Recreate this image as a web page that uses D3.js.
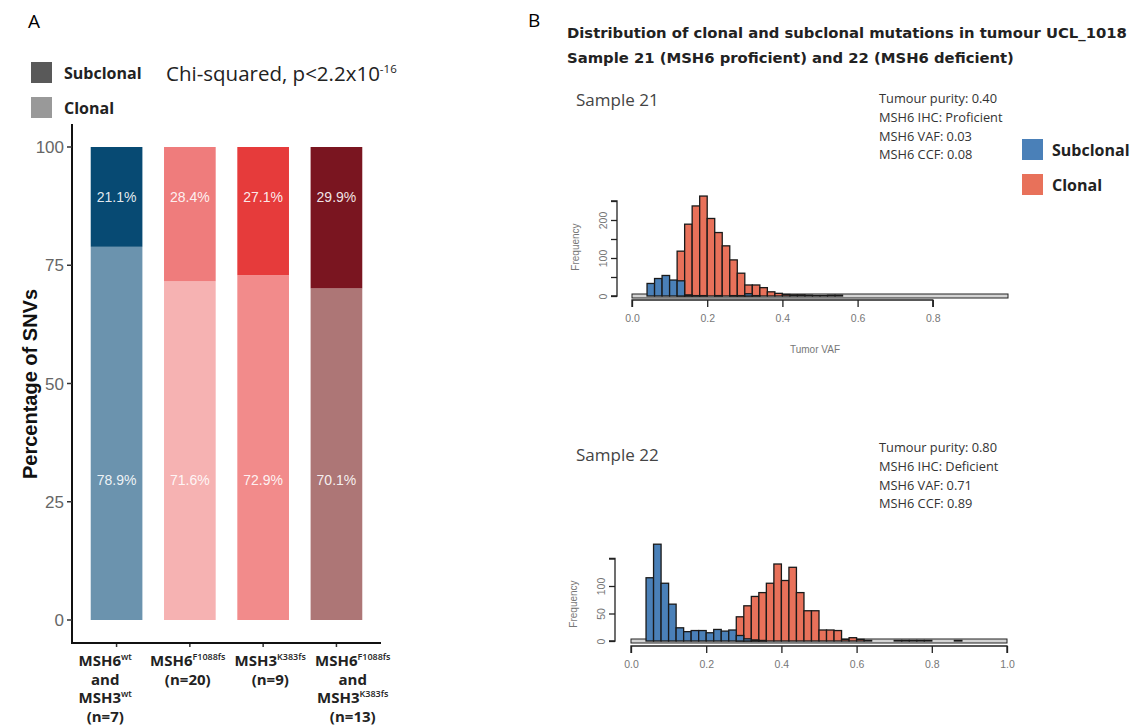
<!DOCTYPE html>
<html>
<head>
<meta charset="utf-8">
<script src="https://cdn.jsdelivr.net/npm/d3@7"></script>
<style>
body { margin: 0; background: #fff; }
svg text { font-family: "Open Sans", sans-serif; }
svg text.r { font-family: "Liberation Sans", Arial, sans-serif; }
svg text.ttl { font-family: "DejaVu Sans", sans-serif; }
</style>
</head>
<body>
<div id="chart"></div>
<script>
// panel A data
var groups = ["wt", "F1088fs", "K383fs", "both"];
var subclonalPct = [21.1, 28.4, 27.1, 29.9];
var clonalPct = [78.9, 71.6, 72.9, 70.1];
var subclonalCol = ["#074a73", "#ef7c7c", "#e63b3b", "#7a1520"];
var clonalCol = ["#6b93ae", "#f6b2b2", "#f28b8b", "#ad7676"];
var pctTicks = [0, 25, 50, 75, 100];
var groupLabels = [
  [["MSH6", "wt"], ["and", ""], ["MSH3", "wt"], ["(n=7)", ""]],
  [["MSH6", "F1088fs"], ["(n=20)", ""]],
  [["MSH3", "K383fs"], ["(n=9)", ""]],
  [["MSH6", "F1088fs"], ["and", ""], ["MSH3", "K383fs"], ["(n=13)", ""]]
];

// panel B data: VAF bins (left edge, width 0.02)
var binStarts = [0.04, 0.06, 0.08, 0.10, 0.12, 0.14, 0.16, 0.18, 0.20, 0.22, 0.24, 0.26, 0.28, 0.30, 0.32, 0.34,
  0.36, 0.38, 0.40, 0.42, 0.44, 0.46, 0.48, 0.50, 0.52, 0.54, 0.56, 0.58, 0.60, 0.62, 0.64, 0.66, 0.68, 0.70,
  0.72, 0.74, 0.76, 0.78, 0.80, 0.82, 0.84, 0.86];
var s21Subclonal = [33, 46, 54, 42, 40, 3, 1, 1, 0, 1, 0, 1, 1, 6, 1, 0, 0, 0, 0, 0, 0, 0, 0, 0, 0, 0, 0, 0, 0, 0, 0, 0, 0, 0, 0, 0, 0, 0, 0, 0, 0, 0];
var s21Clonal = [0, 0, 0, 0, 118, 189, 237, 263, 204, 167, 132, 95, 60, 29, 29, 22, 11, 7, 4, 3, 3, 2, 1, 1, 2, 2, 0, 0, 0, 0, 0, 0, 0, 0, 0, 0, 0, 0, 0, 0, 0, 0];
var s22Subclonal = [115, 176, 105, 67, 24, 17, 19, 19, 15, 21, 18, 20, 10, 4, 2, 1, 0, 0, 0, 0, 0, 0, 0, 0, 0, 0, 0, 0, 0, 0, 0, 0, 0, 0, 0, 0, 0, 0, 0, 0, 0, 0];
var s22Clonal = [0, 0, 0, 0, 0, 0, 0, 0, 0, 0, 0, 0, 44, 64, 81, 88, 105, 140, 110, 134, 88, 55, 55, 20, 20, 19, 3, 6, 3, 1, 0, 0, 0, 1, 1, 1, 1, 1, 0, 0, 0, 1];
var s21Info = ["Tumour purity: 0.40", "MSH6 IHC: Proficient", "MSH6 VAF: 0.03", "MSH6 CCF: 0.08"];
var s22Info = ["Tumour purity: 0.80", "MSH6 IHC: Deficient", "MSH6 VAF: 0.71", "MSH6 CCF: 0.89"];

var width = 1142, height = 725;
var svg = d3.select("#chart").append("svg")
  .attr("width", width).attr("height", height);

// ---------- panel A ----------
svg.append("text").attr("x", 28).attr("y", 28).attr("font-size", 19).text("A");

var legA = [["Subclonal", "#595959", 62], ["Clonal", "#999999", 97]];
legA.forEach(function(l) {
  svg.append("rect").attr("x", 31).attr("y", l[2]).attr("width", 21).attr("height", 21).attr("fill", l[1]);
  svg.append("text").attr("x", 64).attr("y", l[2] + 17).attr("font-size", 16)
    .attr("font-weight", 700).attr("fill", "#222").text(l[0]);
});
var chi = svg.append("text").attr("x", 166).attr("y", 81).attr("font-size", 20.5).attr("fill", "#222")
  .text("Chi-squared, p<2.2x10");
chi.append("tspan").attr("dy", -8).attr("font-size", 11.5).text("-16");

var xA = d3.scaleBand().domain(groups).range([79, 374]).paddingInner(0.295).paddingOuter(0.16);
var yA = d3.scaleLinear().domain([0, 100]).range([620, 147]);
var xLab = d3.scaleBand().domain(groups).range([64, 394]);

var gA = svg.append("g");
groups.forEach(function(g, i) {
  gA.append("rect").attr("x", xA(g)).attr("width", xA.bandwidth())
    .attr("y", yA(clonalPct[i])).attr("height", yA(0) - yA(clonalPct[i]))
    .attr("fill", clonalCol[i]);
  gA.append("rect").attr("x", xA(g)).attr("width", xA.bandwidth())
    .attr("y", yA(100)).attr("height", yA(clonalPct[i]) - yA(100))
    .attr("fill", subclonalCol[i]);
  var cx = xA(g) + xA.bandwidth() / 2;
  gA.append("text").attr("class", "r").attr("x", cx).attr("y", 202).attr("text-anchor", "middle")
    .attr("font-size", 14).attr("fill", "#fff").attr("fill-opacity", 0.9).text(subclonalPct[i].toFixed(1) + "%");
  gA.append("text").attr("class", "r").attr("x", cx).attr("y", 485).attr("text-anchor", "middle")
    .attr("font-size", 14).attr("fill", "#fff").attr("fill-opacity", 0.9).text(clonalPct[i].toFixed(1) + "%");
  // tick
  gA.append("line").attr("x1", cx).attr("x2", cx).attr("y1", 643).attr("y2", 647).attr("stroke", "#333").attr("stroke-width", 1.5);
  var lx = xLab(g) + xLab.bandwidth() / 2;
  groupLabels[i].forEach(function(line, j) {
    var t = gA.append("text").attr("x", lx).attr("y", 666 + j * 18.5).attr("text-anchor", "middle")
      .attr("font-size", 15).attr("font-weight", 700).attr("fill", "#222").text(line[0]);
    if (line[1]) t.append("tspan").attr("dy", -6).attr("font-size", 9).attr("font-weight", 600).text(line[1]);
  });
});

// axes
gA.append("line").attr("x1", 72).attr("x2", 72).attr("y1", 124).attr("y2", 643.5).attr("stroke", "#111").attr("stroke-width", 2);
gA.append("line").attr("x1", 71).attr("x2", 381).attr("y1", 643).attr("y2", 643).attr("stroke", "#111").attr("stroke-width", 2);
pctTicks.forEach(function(t) {
  gA.append("line").attr("x1", 67).attr("x2", 72).attr("y1", yA(t)).attr("y2", yA(t)).attr("stroke", "#333").attr("stroke-width", 1.5);
  gA.append("text").attr("class", "r").attr("x", 64).attr("y", yA(t) + 6).attr("text-anchor", "end")
    .attr("font-size", 17).attr("fill", "#666").text(t);
});
svg.append("text").attr("class", "r").attr("transform", "translate(37,384) rotate(-90)")
  .attr("text-anchor", "middle").attr("font-size", 20).attr("font-weight", 700).attr("fill", "#111")
  .text("Percentage of SNVs");

// ---------- panel B ----------
svg.append("text").attr("x", 528).attr("y", 27).attr("font-size", 19).text("B");
svg.append("text").attr("class", "ttl").attr("x", 567).attr("y", 38).attr("font-size", 14.8).attr("font-weight", 700)
  .attr("fill", "#222").text("Distribution of clonal and subclonal mutations in tumour UCL_1018");
svg.append("text").attr("class", "ttl").attr("x", 567).attr("y", 63).attr("font-size", 14.8).attr("font-weight", 700)
  .attr("fill", "#222").text("Sample 21 (MSH6 proficient) and 22 (MSH6 deficient)");

var blue = "#4a80b8", red = "#e8715a";
var legB = [["Subclonal", blue, 139], ["Clonal", red, 174]];
legB.forEach(function(l) {
  svg.append("rect").attr("x", 1022).attr("y", l[2]).attr("width", 21).attr("height", 21).attr("fill", l[1]);
  svg.append("text").attr("x", 1052).attr("y", l[2] + 17).attr("font-size", 16)
    .attr("font-weight", 700).attr("fill", "#222").text(l[0]);
});

function histPanel(opt) {
  var g = svg.append("g");
  var x = d3.scaleLinear().domain([0, 1]).range(opt.xr);
  var y = d3.scaleLinear().domain([0, opt.ymax]).range(opt.yr);
  var bw = 0.02;
  g.append("text").attr("x", 576).attr("y", opt.titleY).attr("font-size", 17).attr("fill", "#444").text(opt.title);
  opt.info.forEach(function(s, i) {
    g.append("text").attr("x", 879).attr("y", opt.infoY + i * 18.8).attr("font-size", 12.8).attr("fill", "#333").text(s);
  });
  // zero-height bins baseline
  g.append("rect").attr("x", x(0)).attr("width", x(1) - x(0)).attr("y", y(0) - 2).attr("height", 4)
    .attr("fill", "#d4d4d4").attr("stroke", "#222").attr("stroke-width", 1);
  [[opt.clonal, red], [opt.subclonal, blue]].forEach(function(s) {
    g.selectAll(null).data(binStarts.map(function(b, i) { return { b: b, n: s[0][i] }; })
      .filter(function(d) { return d.n > 0; }))
      .enter().append("rect")
      .attr("x", function(d) { return x(d.b); })
      .attr("width", function(d) { return x(d.b + bw) - x(d.b); })
      .attr("y", function(d) { return y(d.n); })
      .attr("height", function(d) { return y(0) - y(d.n); })
      .attr("fill", s[1]).attr("stroke", "#1a1a1a").attr("stroke-width", 1.3);
  });
  // y axis
  var ya = g.append("g").attr("transform", "translate(" + opt.yaxX + ",0)")
    .call(d3.axisLeft(y).tickValues(opt.yTicks).tickSize(6).tickPadding(5)
      .tickFormat(function(d) { return opt.yLabels.indexOf(d) >= 0 ? d : ""; }));
  ya.select(".domain").attr("stroke", "#222").attr("stroke-width", 1.3).attr("d", "M-6," + y(opt.yTicks[opt.yTicks.length - 1]) + "H0V" + y(0) + "H-6");
  ya.selectAll(".tick line").attr("stroke", "#222").attr("stroke-width", 1.3);
  ya.selectAll(".tick text").attr("class", "r").attr("transform", "rotate(-90,-11,0)").attr("x", -11).attr("y", 0).attr("dy", "0.1em")
    .attr("text-anchor", "middle").attr("font-size", 10.5).attr("fill", "#777");
  g.append("text").attr("class", "r").attr("transform", "translate(" + (opt.yaxX - 38) + "," + opt.freqY + ") rotate(-90)")
    .attr("text-anchor", "middle").attr("font-size", 10).attr("fill", "#777").text("Frequency");
  // x axis
  var xa = g.append("g").attr("transform", "translate(0," + opt.xaxY + ")")
    .call(d3.axisBottom(x).tickValues(opt.xTicks).tickSize(7).tickPadding(8).tickFormat(d3.format(".1f")));
  xa.select(".domain").attr("stroke", "#222").attr("stroke-width", 1.3)
    .attr("d", "M" + x(opt.xTicks[0]) + ",7V0H" + x(opt.xTicks[opt.xTicks.length - 1]) + "V7");
  xa.selectAll(".tick line").attr("stroke", "#222").attr("stroke-width", 1.3);
  xa.selectAll(".tick text").attr("class", "r").attr("font-size", 10.5).attr("fill", "#777");
  if (opt.xTitle) {
    g.append("text").attr("class", "r").attr("x", (x(0) + x(1)) / 2 - 5).attr("y", 353).attr("text-anchor", "middle")
      .attr("font-size", 10).attr("fill", "#777").text(opt.xTitle);
  }
}

histPanel({
  title: "Sample 21", titleY: 106, info: s21Info, infoY: 103,
  xr: [632, 1008], yr: [296, 201], ymax: 250, yaxX: 617,
  yTicks: [0, 50, 100, 150, 200, 250], yLabels: [0, 100, 200], freqY: 247,
  xaxY: 300, xTicks: [0, 0.2, 0.4, 0.6, 0.8], xTitle: "Tumor VAF",
  subclonal: s21Subclonal, clonal: s21Clonal
});
histPanel({
  title: "Sample 22", titleY: 461, info: s22Info, infoY: 452,
  xr: [631, 1007], yr: [641, 558.5], ymax: 150, yaxX: 615,
  yTicks: [0, 50, 100, 150], yLabels: [0, 50, 100], freqY: 604,
  xaxY: 646, xTicks: [0, 0.2, 0.4, 0.6, 0.8, 1.0], xTitle: null,
  subclonal: s22Subclonal, clonal: s22Clonal
});
</script>
</body>
</html>
